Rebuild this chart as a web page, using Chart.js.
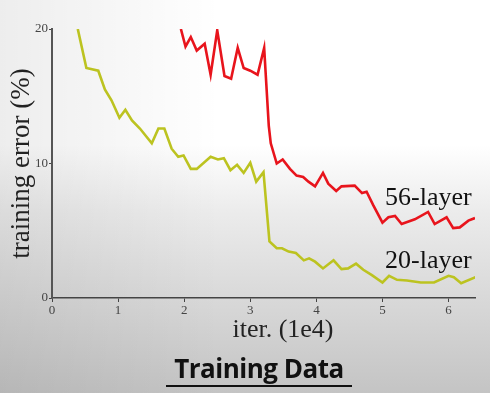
<!DOCTYPE html>
<html>
<head>
<meta charset="utf-8">
<script src="https://cdn.jsdelivr.net/npm/chart.js@4"></script>
<style>
  html, body { margin: 0; padding: 0; }
  body {
    width: 490px; height: 393px; position: relative; overflow: hidden;
    background:
      linear-gradient(to right, rgba(0,0,0,0.07), rgba(0,0,0,0) 45%),
      linear-gradient(to bottom, #ffffff 0, #ffffff 145px, #ececec 210px, #c4c4c4 393px);
  }
  #chart { position: absolute; left: 0; top: 0; }
  #xtitle {
    position: absolute; left: 200px; width: 166px; top: 314px;
    text-align: center; font: 26px "Liberation Serif", serif; color: #222;
  }
  #caption {
    position: absolute; left: 166px; top: 351px; width: 186px;
    text-align: center; font: bold 26px "Open Sans", sans-serif; color: #111;
    border-bottom: 2px solid #111; line-height: 34px; letter-spacing: -0.5px;
  }
</style>
</head>
<body>
<canvas id="chart" width="490" height="393"></canvas>
<div id="xtitle">iter. (1e4)</div>
<div id="caption">Training Data</div>
<script>
// values, x in units of 1e4 iterations, y in %
var iter20 = [0.39, 0.52, 0.70, 0.80, 0.90, 1.02, 1.11, 1.21, 1.33, 1.51, 1.61, 1.70, 1.81, 1.91, 1.99,
    2.10, 2.19, 2.40, 2.51, 2.60, 2.70, 2.80, 2.90, 3.00, 3.09, 3.20, 3.29, 3.40, 3.48, 3.58, 3.69,
    3.81, 3.89, 3.98, 4.10, 4.26, 4.38, 4.48, 4.60, 4.71, 4.84, 5.00, 5.10, 5.22, 5.37, 5.58, 5.78,
    6.00, 6.08, 6.19, 6.41];
var err20 = [20.0, 17.1, 16.9, 15.5, 14.7, 13.4, 14.0, 13.2, 12.6, 11.5, 12.6, 12.6, 11.1, 10.5, 10.6,
    9.6, 9.6, 10.5, 10.3, 10.4, 9.5, 9.9, 9.3, 10.05, 8.65, 9.35, 4.2, 3.7, 3.7, 3.45, 3.35,
    2.8, 2.95, 2.7, 2.2, 2.8, 2.15, 2.2, 2.55, 2.1, 1.7, 1.15, 1.65, 1.35, 1.3, 1.15, 1.15,
    1.65, 1.55, 1.1, 1.55];
var iter56 = [1.95, 2.02, 2.10, 2.19, 2.31, 2.40, 2.50, 2.61, 2.71, 2.81, 2.90, 3.00, 3.11, 3.21,
    3.28, 3.31, 3.40, 3.49, 3.60, 3.70, 3.80, 3.88, 3.98, 4.10, 4.18, 4.30, 4.38, 4.58, 4.69, 4.76,
    4.86, 5.00, 5.09, 5.19, 5.29, 5.49, 5.69, 5.79, 5.97, 6.07, 6.17, 6.30, 6.40];
var err56 = [20.0, 18.7, 19.4, 18.4, 18.9, 16.6, 19.9, 16.5, 16.3, 18.6, 17.1, 16.9, 16.6, 18.6,
    12.8, 11.5, 10.0, 10.3, 9.6, 9.1, 9.0, 8.65, 8.3, 9.3, 8.5, 7.95, 8.3, 8.35, 7.8, 7.9,
    6.9, 5.6, 6.0, 6.1, 5.5, 5.85, 6.4, 5.5, 6.0, 5.2, 5.25, 5.75, 5.95];
var seriesNames = ['20-layer', '56-layer'];
var yTicks = [0, 10, 20];
var xTicks = [0, 1, 2, 3, 4, 5, 6];

// where the series names sit, in data units
var nameAnchors = [[5.04, 2.2], [5.04, 6.9]];

function toPoints(xs, ys) {
    var pts = [];
    for (var i = 0; i < xs.length; i++) {
        pts.push({x: xs[i], y: ys[i]});
    }
    return pts;
}

var seriesLabels = {
    id: 'seriesLabels',
    afterDatasetsDraw: function (chart) {
        var c = chart.ctx;
        var xs = chart.scales.x, ys = chart.scales.y;
        c.save();
        c.font = '26px "Liberation Serif", serif';
        c.fillStyle = '#111';
        c.textAlign = 'left';
        c.textBaseline = 'alphabetic';
        for (var i = 0; i < seriesNames.length; i++) {
            c.fillText(seriesNames[i], xs.getPixelForValue(nameAnchors[i][0]), ys.getPixelForValue(nameAnchors[i][1]));
        }
        c.restore();
    }
};

var serif = {family: '"Liberation Serif", serif'};

new Chart('chart', {
    type: 'line',
    data: {
        datasets: [{
            label: seriesNames[0],
            data: toPoints(iter20, err20),
            borderColor: '#bcc320',
            borderWidth: 2.6,
            pointRadius: 0,
            tension: 0
        }, {
            label: seriesNames[1],
            data: toPoints(iter56, err56),
            borderColor: '#e8141c',
            borderWidth: 2.6,
            pointRadius: 0,
            tension: 0
        }]
    },
    options: {
        responsive: false,
        animation: false,
        layout: {padding: {left: 0, top: 29, right: 15, bottom: 75}},
        plugins: {legend: {display: false}, tooltip: {enabled: false}},
        scales: {
            x: {
                type: 'linear',
                min: 0,
                max: 6.4,
                afterBuildTicks: function (scale) {
                    scale.ticks = xTicks.map(function (v) { return {value: v}; });
                },
                afterFit: function (scale) { scale.height = 20; },
                border: {color: '#444', width: 1.5},
                grid: {drawOnChartArea: false, tickLength: 4, color: '#444'},
                ticks: {color: '#444', padding: 1, maxRotation: 0, font: {family: serif.family, size: 13}}
            },
            y: {
                min: 0,
                max: 20,
                afterBuildTicks: function (scale) {
                    scale.ticks = yTicks.map(function (v) { return {value: v}; });
                },
                afterFit: function (scale) { scale.width = 52; },
                border: {color: '#555', width: 2},
                grid: {drawOnChartArea: false, tickLength: 3, color: '#444'},
                ticks: {color: '#444', padding: 1, font: {family: serif.family, size: 13}},
                title: {
                    display: true,
                    text: 'training error (%)',
                    color: '#222',
                    padding: {top: 6, bottom: 0},
                    font: {family: serif.family, size: 27}
                }
            }
        }
    },
    plugins: [seriesLabels]
});
</script>
</body>
</html>
